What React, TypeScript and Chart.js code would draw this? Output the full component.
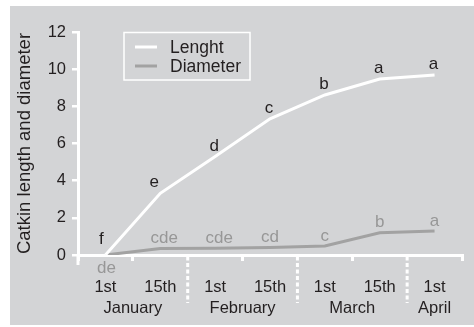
import { useEffect, useRef } from 'react';
import { Chart, registerables } from 'chart.js';

Chart.register(...registerables);

const dateLabels = ['1st', '15th', '1st', '15th', '1st', '15th', '1st'];
const months = ['January', 'February', 'March', 'April'];
const monthCenters = [0.5, 2.5, 4.5, 6];
const monthBreaks = [1.5, 3.5, 5.5];
const lengthValues = [0, 3.32, 5.3, 7.33, 8.61, 9.47, 9.69];
const diameterValues = [0, 0.35, 0.36, 0.4, 0.48, 1.2, 1.29];
const lengthLetters = ['f', 'e', 'd', 'c', 'b', 'a', 'a'];
const diameterLetters = ['de', 'cde', 'cde', 'cd', 'c', 'b', 'a'];
const seriesNames = ['Lenght', 'Diameter'];
const yTitle = 'Catkin length and diameter';

const FONT = '"Liberation Sans", Arial, Helvetica, sans-serif';
const TEXT = '#231f20';
const GRAY_TEXT = '#979797';
const BG = '#d3d4d6';
const LEN_COLOR = '#ffffff';
const DIA_COLOR = '#a2a2a2';

const decor = {
  id: 'decor',
  beforeDraw(chart: any) {
    const { ctx, width, height } = chart;
    ctx.save();
    ctx.fillStyle = '#ffffff';
    ctx.fillRect(0, 0, width, height);
    ctx.fillStyle = BG;
    ctx.fillRect(10, 6, width - 10, height - 8);
    ctx.restore();
  },
  afterDraw(chart: any) {
    const { ctx, chartArea } = chart;
    const x = chart.scales.x;
    const y = chart.scales.y;
    const y0 = y.getPixelForValue(0);
    ctx.save();
    // y-axis extension below the x axis
    ctx.strokeStyle = '#ffffff';
    ctx.lineWidth = 3;
    ctx.beginPath();
    ctx.moveTo(chartArea.left, y0);
    ctx.lineTo(chartArea.left, y0 + 10);
    ctx.stroke();
    // dotted month separators
    ctx.setLineDash([4, 2.5]);
    monthBreaks.forEach((b) => {
      const px = x.getPixelForValue(b);
      ctx.beginPath();
      ctx.moveTo(px, y0 + 1.5);
      ctx.lineTo(px, y0 + 48);
      ctx.stroke();
    });
    ctx.setLineDash([]);
    // month names
    ctx.fillStyle = TEXT;
    ctx.font = `16.5px ${FONT}`;
    ctx.textAlign = 'center';
    ctx.textBaseline = 'alphabetic';
    months.forEach((m, i) => {
      ctx.fillText(m, x.getPixelForValue(monthCenters[i]), y0 + 57.5);
    });
    // significance letters
    ctx.font = `17px ${FONT}`;
    lengthLetters.forEach((l, i) => {
      const px = x.getPixelForValue(i);
      const py = y.getPixelForValue(lengthValues[i]);
      const dx = i === 0 ? -4 : i === 1 ? -6 : -1;
      const dy = i === 0 ? -11 : -6;
      ctx.fillStyle = TEXT;
      ctx.fillText(l, px + dx, py + dy);
    });
    diameterLetters.forEach((l, i) => {
      const px = x.getPixelForValue(i);
      const py = y.getPixelForValue(diameterValues[i]);
      const dy = i === 0 ? 18 : -5.5;
      const dx = i === 0 ? 1 : i <= 2 ? 4 : 0;
      ctx.fillStyle = GRAY_TEXT;
      ctx.fillText(l, px + dx, py + dy);
    });
    // legend
    const lx = 124, ly = 32.5, lw = 126, lh = 47.5;
    ctx.strokeStyle = '#ffffff';
    ctx.lineWidth = 1.5;
    ctx.strokeRect(lx, ly, lw, lh);
    ctx.font = `17.5px ${FONT}`;
    ctx.textAlign = 'left';
    chart.data.datasets.forEach((ds: any, i: number) => {
      const cy = 47 + i * 19;
      ctx.strokeStyle = ds.borderColor;
      ctx.lineWidth = 3;
      ctx.beginPath();
      ctx.moveTo(135, cy);
      ctx.lineTo(157, cy);
      ctx.stroke();
      ctx.fillStyle = TEXT;
      ctx.fillText(ds.label, 170, cy + 6.2);
    });
    ctx.restore();
  },
};

export default function App() {
  const ref = useRef<HTMLCanvasElement | null>(null);
  useEffect(() => {
    if (!ref.current) return;
    const chart = new Chart(ref.current, {
      type: 'line',
      data: {
        labels: dateLabels,
        datasets: [
          {
            label: seriesNames[0],
            data: lengthValues,
            borderColor: LEN_COLOR,
            backgroundColor: LEN_COLOR,
            borderWidth: 3,
            pointRadius: 0,
            tension: 0,
          },
          {
            label: seriesNames[1],
            data: diameterValues,
            borderColor: DIA_COLOR,
            backgroundColor: DIA_COLOR,
            borderWidth: 3,
            pointRadius: 0,
            tension: 0,
          },
        ],
      },
      options: {
        responsive: false,
        animation: false,
        devicePixelRatio: 1,
        layout: { padding: { top: 32, right: 12, bottom: 0, left: 0 } },
        plugins: { legend: { display: false }, tooltip: { enabled: false } },
        scales: {
          x: {
            type: 'category',
            offset: true,
            grid: {
              offset: true,
              drawOnChartArea: false,
              drawTicks: true,
              tickLength: 6,
              lineWidth: 3,
              color: (c: any) => (c.index === 2 || c.index === 4 || c.index === 6 ? 'rgba(0,0,0,0)' : '#ffffff'),
            },
            border: { display: true, color: '#ffffff', width: 3 },
            ticks: {
              color: TEXT,
              font: { family: FONT, size: 16.5 },
              padding: 17,
              maxRotation: 0,
              autoSkip: false,
            },
            afterFit: (s: any) => {
              s.height = 72;
            },
          },
          y: {
            min: 0,
            max: 12,
            grid: {
              drawOnChartArea: false,
              drawTicks: true,
              tickLength: 6,
              lineWidth: 2.5,
              color: '#ffffff',
            },
            border: { display: true, color: '#ffffff', width: 3 },
            ticks: {
              stepSize: 2,
              color: TEXT,
              font: { family: FONT, size: 16.5 },
              padding: 6,
            },
            title: {
              display: true,
              text: yTitle,
              color: TEXT,
              font: { family: FONT, size: 18.5 },
              padding: { top: 14, bottom: 0 },
            },
            afterFit: (s: any) => {
              s.width = 78;
            },
          },
        },
      },
      plugins: [decor],
    } as any);
    return () => chart.destroy();
  }, []);
  return (
    <div style={{ position: 'absolute', left: 0, top: 0, width: 474, height: 327 }}>
      <canvas ref={ref} width={474} height={327} />
    </div>
  );
}
